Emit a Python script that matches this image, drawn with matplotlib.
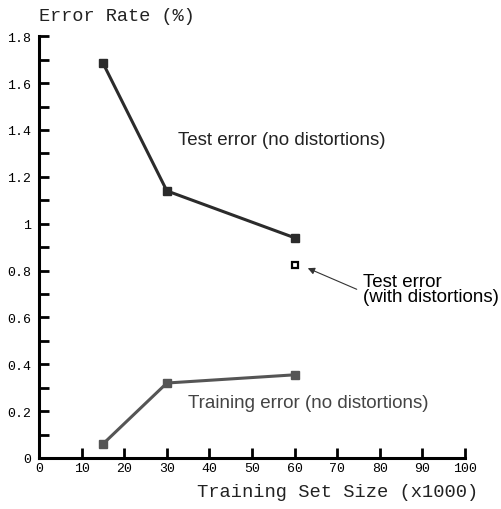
import matplotlib
matplotlib.use("Agg")
import matplotlib.pyplot as plt
from matplotlib.ticker import MultipleLocator

# Data
sizes = [15, 30, 60]
test_err = [1.685, 1.14, 0.94]
train_err = [0.06, 0.32, 0.355]
dist_size = [60]
dist_err = [0.825]

x_ticks = list(range(0, 101, 10))
y_ticks = [0, 0.2, 0.4, 0.6, 0.8, 1, 1.2, 1.4, 1.6, 1.8]
y_tick_labels = ["0", "0.2", "0.4", "0.6", "0.8", "1", "1.2", "1.4", "1.6", "1.8"]

mono = "Liberation Mono"
sans = "Liberation Sans"

fig = plt.figure(figsize=(5.02, 5.10), dpi=100)
ax = fig.add_axes([0.078, 0.1, 0.848, 0.827])

ax.plot(sizes, test_err, color="#2b2b2b", lw=2.2, marker="s", ms=6, zorder=3)
ax.plot(sizes, train_err, color="#555555", lw=2.2, marker="s", ms=6, zorder=3)
ax.plot(dist_size, dist_err, ls="none", marker="s", ms=4.5, mfc="white",
        mec="black", mew=1.6, zorder=3)

ax.set_xlim(0, 100)
ax.set_ylim(0, 1.8)
ax.set_xticks(x_ticks)
ax.set_xticklabels([str(t) for t in x_ticks], family=mono, fontsize=9.5)
ax.set_yticks(y_ticks)
ax.set_yticklabels(y_tick_labels, family=mono, fontsize=9.5)
ax.yaxis.set_minor_locator(MultipleLocator(0.1))

for s in ["top", "right"]:
    ax.spines[s].set_visible(False)
for s in ["left", "bottom"]:
    ax.spines[s].set_linewidth(2.2)
    ax.spines[s].set_color("black")

ax.tick_params(axis="both", which="both", direction="in", width=2, length=7,
               color="black")
ax.tick_params(axis="y", pad=6)
ax.tick_params(axis="x", pad=3)

# axis titles
fig.text(0.078, 0.985, "Error Rate (%)", family=mono, fontsize=13.4,
         ha="left", va="top", color="#222222")
fig.text(0.952, 0.018, "Training Set Size (x1000)", family=mono, fontsize=13.5,
         ha="right", va="bottom", color="#222222")

# in-plot labels
ax.text(32.6, 1.36, "Test error (no distortions)", family=sans, fontsize=13.5,
        color="#222222", ha="left", va="center")
ax.text(35, 0.235, "Training error (no distortions)", family=sans,
        fontsize=13.5, color="#444444", ha="left", va="center")
ax.text(76, 0.72, "Test error\n(with distortions)", family=sans, fontsize=13.5,
        color="black", ha="left", va="center", linespacing=0.85)
ax.annotate("", xy=(63.1, 0.81), xytext=(74.6, 0.72),
            arrowprops=dict(arrowstyle="-|>", color="#333333", lw=0.8,
                            mutation_scale=10, shrinkA=0, shrinkB=0))

fig.savefig("out.png", dpi=100)
